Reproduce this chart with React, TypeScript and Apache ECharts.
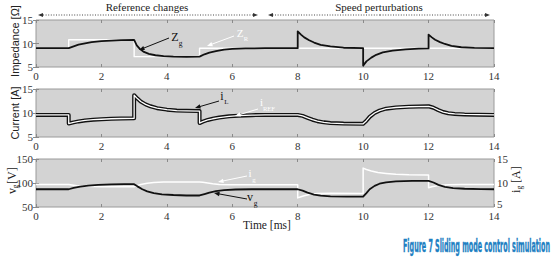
import React, { useEffect, useRef } from "react";
import * as echarts from "echarts";

// ---------- data (time in ms) ----------
const zRefT = [0, 1, 1, 3, 3, 5, 5, 14];
const zRefV = [9, 9, 10.8, 10.8, 7.2, 7.2, 9, 9];

const zgT = [0, 1, 1.15, 1.3, 1.5, 1.7, 2.0, 2.3, 2.6, 3.0, 3.08, 3.18, 3.3, 3.45, 3.65, 3.9, 4.2, 4.6, 5.0, 5.15, 5.3, 5.5, 5.75, 6.0, 6.4, 7.0, 8.0, 8.0, 8.1, 8.2, 8.35, 8.5, 8.7, 9.0, 9.4, 10.0, 10.0, 10.1, 10.25, 10.4, 10.6, 10.9, 11.3, 11.7, 12.0, 12.0, 12.1, 12.2, 12.35, 12.5, 12.7, 13.0, 13.4, 14];
const zgV = [9, 9, 9.4, 9.75, 10.05, 10.3, 10.5, 10.6, 10.7, 10.75, 9.6, 8.8, 8.2, 7.8, 7.5, 7.3, 7.2, 7.15, 7.2, 7.7, 8.05, 8.4, 8.7, 8.85, 8.95, 9.0, 9.0, 12.6, 11.9, 11.3, 10.7, 10.2, 9.7, 9.4, 9.1, 9.0, 5.3, 6.2, 7.0, 7.6, 8.1, 8.5, 8.75, 8.9, 8.95, 11.9, 11.3, 10.8, 10.3, 9.9, 9.5, 9.2, 9.05, 9.0];

const iLT = [0, 1, 1, 1.15, 1.3, 1.5, 1.75, 2.0, 2.3, 2.6, 3.0, 3.0, 3.1, 3.2, 3.35, 3.5, 3.7, 4.0, 4.3, 4.6, 5.0, 5.0, 5.1, 5.25, 5.4, 5.6, 5.9, 6.2, 6.6, 7.0, 8.0, 8.15, 8.3, 8.45, 8.6, 8.8, 9.0, 9.4, 10.0, 10.1, 10.2, 10.35, 10.5, 10.7, 11.0, 11.4, 12.0, 12.15, 12.3, 12.45, 12.6, 12.8, 13.1, 13.5, 14];
const iLV = [9.6, 9.6, 7.8, 8.05, 8.25, 8.45, 8.6, 8.7, 8.8, 8.85, 8.9, 13.7, 13.0, 12.4, 11.8, 11.4, 11.0, 10.7, 10.5, 10.45, 10.4, 7.9, 8.2, 8.55, 8.8, 9.05, 9.3, 9.45, 9.55, 9.6, 9.6, 9.4, 9.0, 8.6, 8.3, 8.05, 7.9, 7.8, 7.75, 8.4, 9.2, 10.0, 10.5, 10.9, 11.15, 11.3, 11.4, 11.1, 10.6, 10.2, 9.95, 9.8, 9.7, 9.65, 9.6];
const iRefT = [0, 1, 1, 1.15, 1.3, 1.5, 1.75, 2.0, 2.3, 2.6, 3.0, 3.0, 3.1, 3.2, 3.35, 3.5, 3.7, 4.0, 4.3, 4.6, 5.0, 5.0, 5.1, 5.25, 5.4, 5.6, 5.9, 6.2, 6.6, 7.0, 8.0, 8.15, 8.3, 8.45, 8.6, 8.8, 9.0, 9.4, 10.0, 10.1, 10.2, 10.35, 10.5, 10.7, 11.0, 11.4, 12.0, 12.15, 12.3, 12.45, 12.6, 12.8, 13.1, 13.5, 14];
const iRefV = [9.6, 9.6, 7.8, 8.05, 8.25, 8.45, 8.6, 8.7, 8.8, 8.85, 8.9, 13.7, 13.0, 12.4, 11.8, 11.4, 11.0, 10.7, 10.5, 10.45, 10.4, 7.9, 8.2, 8.55, 8.8, 9.05, 9.3, 9.45, 9.55, 9.6, 9.6, 9.4, 9.0, 8.6, 8.3, 8.05, 7.9, 7.8, 7.75, 8.4, 9.2, 10.0, 10.5, 10.9, 11.15, 11.3, 11.4, 11.1, 10.6, 10.2, 9.95, 9.8, 9.7, 9.65, 9.6];

const vgT = [0, 1, 1.15, 1.35, 1.6, 1.9, 2.3, 2.7, 3.0, 3.1, 3.25, 3.4, 3.6, 3.85, 4.2, 4.6, 5.0, 5.15, 5.3, 5.5, 5.75, 6.1, 6.6, 8.0, 8.15, 8.3, 8.5, 8.7, 9.0, 9.5, 10.0, 10.1, 10.2, 10.35, 10.5, 10.7, 11.0, 11.5, 12.0, 12.15, 12.3, 12.5, 12.75, 13.1, 13.6, 14];
const vgV = [87, 87, 90, 92.5, 94.5, 96, 97, 97.5, 97.5, 93, 87, 82.5, 79, 76.5, 75, 74, 74, 77, 80, 83, 85, 86.5, 87, 87, 84, 80, 76, 73.5, 72, 71.5, 71.5, 79, 87, 94, 98.5, 101.5, 103.5, 104.5, 104.5, 101, 96, 92, 89.5, 88, 87.2, 87];

const igT = [0, 1, 1.1, 1.25, 1.45, 1.7, 2.0, 3.0, 3.05, 3.2, 3.4, 3.6, 3.9, 4.3, 5.0, 5.1, 5.25, 5.4, 5.6, 5.9, 8.0, 8.0, 8.1, 8.2, 8.35, 8.6, 9.0, 10.0, 10.0, 10.1, 10.25, 10.45, 10.7, 11.0, 11.4, 12.0, 12.0, 12.1, 12.25, 12.4, 12.6, 13.0, 14];
const igV = [9.7, 9.7, 9.6, 9.45, 9.3, 9.25, 9.2, 9.2, 9.35, 9.7, 9.95, 10.1, 10.2, 10.2, 10.2, 10.15, 10.0, 9.85, 9.7, 9.65, 9.65, 6.9, 7.15, 7.35, 7.6, 7.8, 7.85, 7.8, 13.1, 12.8, 12.5, 12.2, 12.0, 11.8, 11.7, 11.65, 9.0, 9.2, 9.4, 9.55, 9.65, 9.7, 9.7];

const timeTicks = { min: 0, max: 14, interval: 2 };
const impTicks = { min: 5, max: 15, interval: 5 };
const curTicks = { min: 5, max: 15, interval: 5 };
const vgTicks = { min: 50, max: 150, interval: 50 };
const igTicks = { min: 5, max: 15, interval: 5 };

const CAPTION = "Figure 7 Sliding mode control simulation";

// ---------- helpers ----------
const pairs = (t: number[], v: number[]) => t.map((x, i) => [x, v[i]]);
const SERIF = "Liberation Serif";
const SANS = "Liberation Sans";
const CAPFONT = "DejaVu Sans Condensed";
const TICK = "#8a8a8a";

function arrow(x1: number, y1: number, x2: number, y2: number, color: string, dashed = false, head = 5.5, hw = 2.2): any[] {
  const dx = x2 - x1, dy = y2 - y1;
  const L = Math.sqrt(dx * dx + dy * dy);
  const ux = dx / L, uy = dy / L;
  const bx = x2 - ux * head, by = y2 - uy * head;
  const px = -uy * hw, py = ux * hw;
  return [
    { type: "line", z: 100, silent: true, shape: { x1, y1, x2: bx + ux, y2: by + uy }, style: { stroke: color, lineWidth: dashed ? 0.9 : 1, lineDash: dashed ? [1, 1.6] : null } },
    { type: "polygon", z: 100, silent: true, shape: { points: [[x2, y2], [bx + px, by + py], [bx - px, by - py]] }, style: { fill: color } },
  ];
}

function txt(x: number, y: number, text: string, size: number, color: string, family = SERIF, align = "center", extra: any = {}) {
  return { type: "text", z: 101, silent: true, x, y, style: { text, fill: color, fontSize: size, fontFamily: family, align, verticalAlign: "middle" }, ...extra };
}

function xAxisDef(gridIndex: number, top = false): any {
  return {
    type: "value", gridIndex, ...timeTicks, position: top ? "top" : "bottom",
    axisLine: { show: false }, splitLine: { show: false },
    axisTick: { inside: true, length: 3, lineStyle: { color: TICK } },
    axisLabel: { show: !top, margin: 3, fontFamily: SERIF, fontSize: 11, color: "#333" },
  };
}
function yAxisDef(gridIndex: number, ticks: any, right = false, labels = true, lift = false): any {
  return {
    type: "value", gridIndex, ...ticks, position: right ? "right" : "left",
    axisLine: { show: false }, splitLine: { show: false },
    axisTick: { inside: true, length: 3, lineStyle: { color: TICK } },
    axisLabel: {
      show: labels, margin: 3, fontFamily: SERIF, fontSize: 11, color: "#333",
      ...(lift ? {
        formatter: (v: number) => (v === ticks.min ? "{lo|" + v + "}" : "" + v),
        rich: { lo: { fontFamily: SERIF, fontSize: 11, color: "#333", padding: [0, 0, 6, 0] } },
      } : {}),
    },
  };
}
function lineSeries(name: string, xi: number, yi: number, data: any[], color: string, width: number, z: number): any {
  return { name, type: "line", xAxisIndex: xi, yAxisIndex: yi, data, symbol: "none", showSymbol: false, silent: true, z, lineStyle: { color, width, join: "round" } };
}

export default function App() {
  const ref = useRef<HTMLDivElement>(null);
  useEffect(() => {
    if (!ref.current) return;
    const chart = echarts.init(ref.current, null, { renderer: "svg" });

    let capScale = 0.5;
    try {
      const c = document.createElement("canvas").getContext("2d");
      if (c) {
        c.font = "bold 18px " + CAPFONT;
        const w = c.measureText(CAPTION).width;
        if (w > 0) capScale = 147 / w;
      }
    } catch (e) {}

    const grid = (top: number, height: number) => ({ left: 36, right: 60, top, height, show: true, backgroundColor: "#d3d3d3", borderColor: "#9a9a9a", borderWidth: 1 });

    const graphic: any[] = [
      ...arrow(148, 15, 38, 15, "#333", true, 5, 2),
      ...arrow(148, 15, 258, 15, "#333", true, 5, 2),
      ...arrow(380, 15, 268, 15, "#333", true, 5, 2),
      ...arrow(380, 15, 490, 15, "#333", true, 5, 2),
      txt(147, 7, "Reference changes", 11, "#222"),
      txt(379, 7, "Speed perturbations", 11, "#222"),
      { type: "group", x: 15, y: 41, rotation: Math.PI / 2, children: [txt(0, 0, "Impedance [Ω]", 11, "#222", SANS)] },
      { type: "group", x: 15, y: 113, rotation: Math.PI / 2, children: [txt(0, 0, "Current [A]", 11, "#222", SANS)] },
      { type: "group", x: 12, y: 181, rotation: Math.PI / 2, children: [
        txt(-13, 0, "v", 12, "#222", SERIF, "left"),
        txt(-7.5, 3.5, "g", 7.5, "#222", SERIF, "left"),
        txt(-3, 0, "[V]", 12, "#222", SERIF, "left"),
      ] },
      { type: "group", x: 516, y: 181, rotation: Math.PI / 2, children: [
        txt(-12, 0, "i", 12, "#222", SERIF, "left"),
        txt(-8.5, 3.5, "g", 7.5, "#222", SERIF, "left"),
        txt(-2, 0, "[A]", 12, "#222", SERIF, "left"),
      ] },
      txt(267, 225, "Time [ms]", 11.5, "#222"),
      txt(175, 37, "Z", 12, "#111"), txt(180.5, 43.5, "g", 7.5, "#111"),
      ...arrow(169, 38, 139, 50, "#111"),
      txt(240, 33, "Z", 11, "#fff"), txt(246, 38.5, "R", 6.5, "#fff"),
      ...arrow(234, 36, 207, 46, "#fff"),
      txt(222, 96, "i", 12, "#111"), txt(226.5, 101.5, "L", 7, "#111"),
      ...arrow(219, 101, 195, 108, "#111"),
      txt(261.5, 102, "i", 11, "#fff"), txt(263, 108.5, "REF", 6.5, "#fff", SERIF, "left"),
      ...arrow(258, 109, 235, 116, "#fff"),
      txt(250, 173, "i", 11, "#fff"), txt(254, 179.5, "g", 7, "#fff"),
      ...arrow(247, 176, 218, 182, "#fff"),
      txt(250, 197, "v", 12, "#111"), txt(255.5, 203.5, "g", 7.5, "#111"),
      ...arrow(247, 199, 214, 193, "#111"),
      { type: "text", z: 101, silent: true, x: 403, y: 245, scaleX: capScale, style: { text: CAPTION, fill: "#1d7fc2", fontSize: 18, fontWeight: "bold", fontFamily: CAPFONT, align: "left", verticalAlign: "middle", stroke: "#1d7fc2", lineWidth: 0.4 } },
    ];

    chart.setOption({
      animation: false,
      grid: [grid(20, 47), grid(89, 48), grid(159, 48)],
      xAxis: [xAxisDef(0), xAxisDef(1), xAxisDef(2), xAxisDef(0, true), xAxisDef(1, true), xAxisDef(2, true)],
      yAxis: [
        yAxisDef(0, impTicks), yAxisDef(1, curTicks), yAxisDef(2, vgTicks), yAxisDef(2, igTicks, true, true, true),
        yAxisDef(0, impTicks, true, false), yAxisDef(1, curTicks, true, false),
      ],
      series: [
        lineSeries("Z_R", 0, 0, pairs(zRefT, zRefV), "#ffffff", 1.4, 2),
        lineSeries("Z_g", 0, 0, pairs(zgT, zgV), "#111111", 1.8, 3),
        lineSeries("i_L", 1, 1, pairs(iLT, iLV), "#111111", 4, 2),
        lineSeries("i_REF", 1, 1, pairs(iRefT, iRefV), "#ffffff", 1.3, 3),
        lineSeries("i_g", 2, 3, pairs(igT, igV), "#ffffff", 1.5, 2),
        lineSeries("v_g", 2, 2, pairs(vgT, vgV), "#111111", 1.8, 3),
      ],
      graphic,
    });
    return () => chart.dispose();
  }, []);
  return <div ref={ref} style={{ position: "fixed", left: 0, top: 0, width: 554, height: 257, background: "#fff" }} />;
}
